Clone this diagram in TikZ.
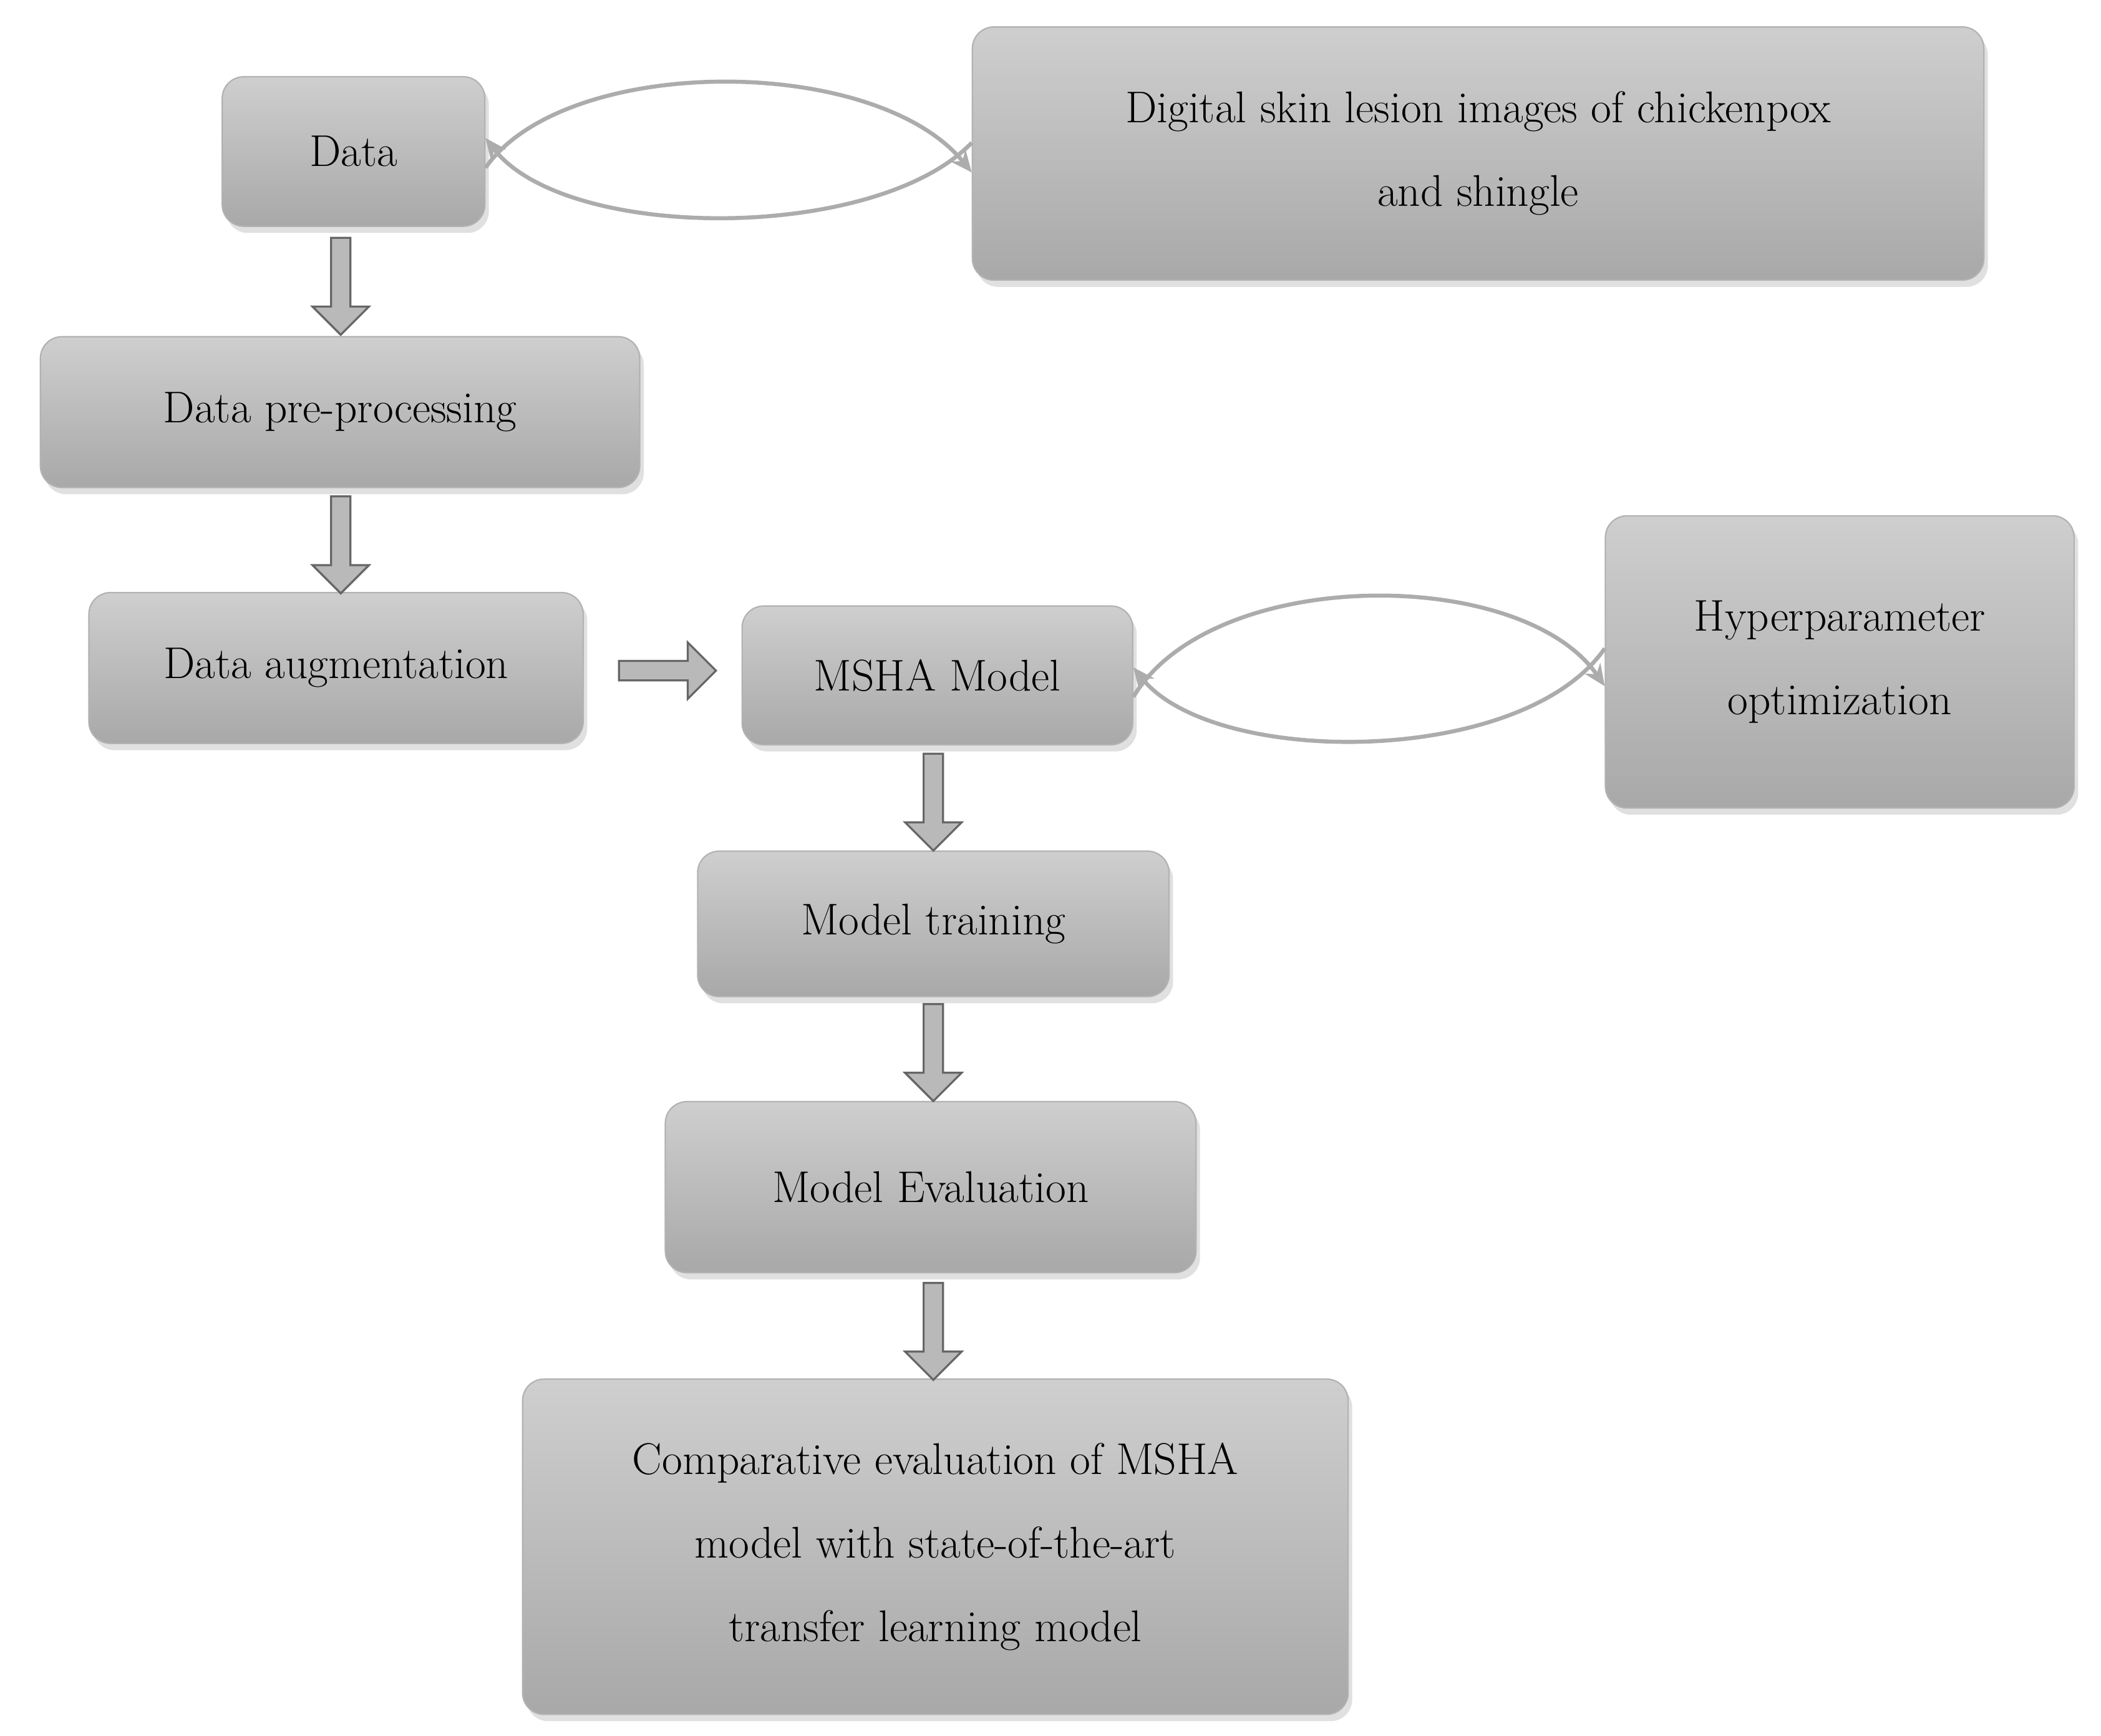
\documentclass[tikz,border=0pt]{standalone}
\usetikzlibrary{shapes.arrows,shadows,arrows.meta}
\begin{document}
\begin{tikzpicture}[x=1pt,y=-1pt,
 box/.style={rounded corners=16pt,top color=gray!38,bottom color=gray!68,draw=gray!60,line width=1pt,
   drop shadow={shadow xshift=3pt,shadow yshift=-5pt,fill=gray!40,opacity=0.6},
   font=\fontsize{33}{62}\selectfont,align=center},
 barr/.style={single arrow,draw=gray!80!black,fill=gray!55,line width=1.5pt,minimum height=72pt,minimum width=42pt,single arrow head extend=11pt,inner sep=5pt},
 loop/.style={draw=gray!65,line width=3pt,-{Stealth[length=16pt,width=14pt]}}]
\useasboundingbox[fill=white] (0,0) rectangle (1560,1289);
\def\bx#1#2#3#4#5#6{\node[box,minimum width=#4-#2,minimum height=#5-#3] (#1) at ({(#2+#4)/2},{(#3+#5)/2}) {#6};}
\bx{data}{165}{57}{360}{168}{Data}
\bx{dig}{722}{20}{1473}{208}{Digital skin lesion images of chickenpox\\and shingle}
\bx{pre}{30}{250}{475}{362}{Data pre-processing}
\bx{aug}{66}{440}{433}{552}{Data augmentation}
\bx{msha}{551}{450}{841}{553}{MSHA Model}
\bx{hyp}{1192}{383}{1540}{600}{Hyperparameter\\optimization}
\bx{tr}{518}{632}{868}{740}{Model training}
\bx{ev}{494}{818}{888}{945}{Model Evaluation}
\bx{cmp}{388}{1024}{1001}{1273}{Comparative evaluation of MSHA\\model with state-of-the-art\\transfer learning model}
\node[barr,rotate=-90] (a1) at (253,209) {};
\node[barr,rotate=-90] (a2) at (253,401) {};
\node[barr] (a3) at (492,498) {};
\node[barr,rotate=-90] (a4) at (693,592) {};
\node[barr,rotate=-90] (a5) at (693,778) {};
\node[barr,rotate=-90] (a6) at (693,985) {};
\draw[loop] ([yshift=-12pt]data.east) .. controls (420,40) and (650,40) .. ([yshift=-14pt]dig.west);
\draw[loop] ([yshift=8pt]dig.west) .. controls (650,180) and (420,180) .. ([yshift=10pt]data.east);
\draw[loop] ([yshift=-16pt]msha.east) .. controls (900,420) and (1130,420) .. ([yshift=-18pt]hyp.west);
\draw[loop] ([yshift=10pt]hyp.west) .. controls (1130,570) and (900,570) .. ([yshift=6pt]msha.east);
\end{tikzpicture}
\end{document}
